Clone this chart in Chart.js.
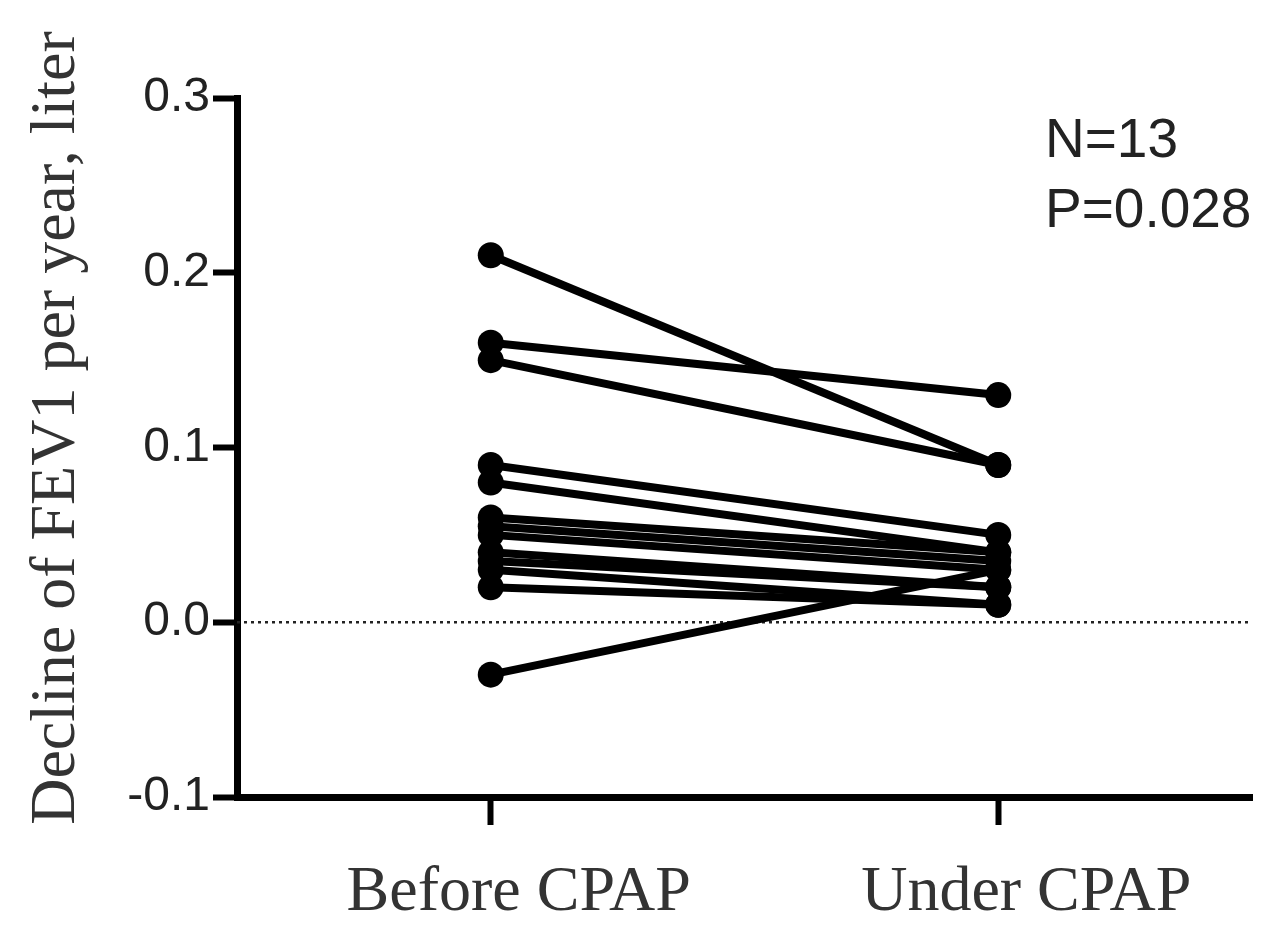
<!DOCTYPE html>
<html>
<head>
<meta charset="utf-8">
<script src="https://cdn.jsdelivr.net/npm/chart.js@4.4.1/dist/chart.umd.min.js"></script>
<style>
  body { margin: 0; background: #fff; }
  canvas { display: block; }
</style>
</head>
<body>
<canvas id="chartFev1" width="1266" height="946"></canvas>
<script>
// values, one pair per patient
const categories = ['Before CPAP', 'Under CPAP'];
const beforeCpap = [0.21, 0.16, 0.15, 0.09, 0.08, 0.06, 0.055, 0.05, 0.04, 0.035, 0.03, 0.02, -0.03];
const underCpap  = [0.09, 0.13, 0.09, 0.05, 0.04, 0.04, 0.035, 0.03, 0.02, 0.02, 0.01, 0.01, 0.03];
const yTicks = [-0.1, 0.0, 0.1, 0.2, 0.3];
const statsText = ['N=13', 'P=0.028'];
const yTitle = 'Decline of FEV1 per year, liter';

const patientSets = beforeCpap.map((b, i) => ({
    data: [{ x: 0, y: b }, { x: 1, y: underCpap[i] }],
    showLine: true,
    borderColor: '#000',
    backgroundColor: '#000',
    borderWidth: 8,
    pointRadius: 13,
    pointHoverRadius: 13,
    pointBorderWidth: 0
}));

// dotted zero line, drawn under the patient lines
const zeroLine = {
    data: [{ x: -0.5, y: 0 }, { x: 1.5, y: 0 }],
    showLine: true,
    borderColor: '#222',
    borderWidth: 2.5,
    borderDash: [3, 4],
    pointRadius: 0
};

const textPlugin = {
    id: 'texts',
    afterDraw(chart) {
        const ctx = chart.ctx;
        ctx.save();
        ctx.fillStyle = '#222';
        ctx.font = '55px "Liberation Sans", Arial, sans-serif';
        ctx.textAlign = 'left';
        ctx.textBaseline = 'alphabetic';
        ctx.fillText(statsText[0], 1045, 157);
        ctx.fillText(statsText[1], 1045, 227);

        ctx.fillStyle = '#333';
        ctx.font = '64px "Liberation Serif", "Times New Roman", serif';
        ctx.translate(74, 428);
        ctx.rotate(-Math.PI / 2);
        ctx.textAlign = 'center';
        ctx.fillText(yTitle, 0, 0);
        ctx.restore();
    }
};

const ctx = document.getElementById('chartFev1').getContext('2d');
const chartFev1 = new Chart(ctx, {
    type: 'scatter',
    data: { datasets: [...patientSets, zeroLine] },
    options: {
        responsive: false,
        animation: false,
        layout: { padding: { top: 98, right: 14, left: 0, bottom: 0 } },
        plugins: { legend: { display: false }, tooltip: { enabled: false } },
        scales: {
            x: {
                type: 'linear',
                min: -0.5,
                max: 1.5,
                afterBuildTicks: s => { s.ticks = categories.map((c, i) => ({ value: i })); },
                afterFit: s => { s.height = 149; },
                ticks: {
                    callback: v => categories[v],
                    font: { family: '"Liberation Serif", "Times New Roman", serif', size: 64 },
                    color: '#333',
                    padding: 30,
                    labelOffset: 28
                },
                grid: { drawOnChartArea: false, tickLength: 28, tickWidth: 6, color: '#000' },
                border: { width: 7, color: '#000' }
            },
            y: {
                min: -0.1,
                max: 0.3,
                afterBuildTicks: s => { s.ticks = yTicks.map(v => ({ value: v })); },
                afterFit: s => { s.width = 237; },
                ticks: {
                    callback: v => v.toFixed(1),
                    font: { family: '"Liberation Sans", Arial, sans-serif', size: 48 },
                    color: '#222',
                    padding: 3
                },
                grid: { drawOnChartArea: false, tickLength: 24, tickWidth: 6, color: '#000' },
                border: { width: 7, color: '#000' }
            }
        }
    },
    plugins: [textPlugin]
});
</script>
</body>
</html>
